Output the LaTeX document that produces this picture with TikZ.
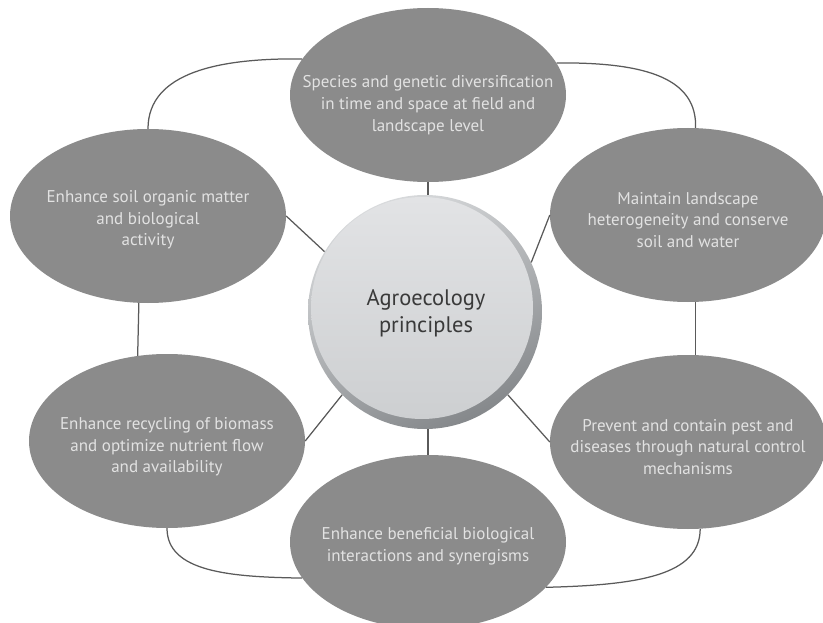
\documentclass[tikz,border=0pt]{standalone}
\usepackage{fontspec}
\setmainfont{PT Sans}
\usetikzlibrary{shapes.geometric,calc}
\definecolor{ellFill}{HTML}{8B8B8B}
\definecolor{ellText}{HTML}{E2E2E2}
\definecolor{lineCol}{HTML}{5A5A5A}
\definecolor{rimHi}{HTML}{D8DADC}
\definecolor{rimLo}{HTML}{85888B}
\definecolor{capHi}{HTML}{E2E3E5}
\definecolor{capLo}{HTML}{CDCFD1}
\definecolor{centerText}{HTML}{3A3A3A}
\tikzset{
  petal/.style={ellipse, fill=ellFill, minimum width=276pt, minimum height=174pt, inner sep=0pt},
  petaltext/.style={text=ellText, align=center, font=\fontsize{17}{21.7}\selectfont, inner sep=0pt},
  link/.style={draw=lineCol, line width=1.25pt},
}
\begin{document}
\begin{tikzpicture}[x=1pt,y=-1pt]
\useasboundingbox (0,0) rectangle (823,623);
% petals
\node[petal] (top) at (428,95) {};
\node[petal] (ul) at (148,216) {};
\node[petal] (ur) at (688,215) {};
\node[petal] (ll) at (167,441) {};
\node[petal] (lr) at (688,442) {};
\node[petal] (bot) at (428,542) {};
% center
\node[circle, minimum size=234pt, inner sep=0pt,
  path picture={
    \shade[top color=rimHi, bottom color=rimLo, shading angle=25]
      (path picture bounding box.south west) rectangle (path picture bounding box.north east);
    \shade[top color=capHi, bottom color=capLo]
      ($(path picture bounding box.center)+(-3,-4)$) circle[radius=111];
  }] (c) at (425,312) {};
% spokes
\draw[link] (top.south) -- (top.south |- c.north);
\draw[link] (bot.north) -- (bot.north |- c.south);
\draw[link] (ul.east) -- (c.149);
\draw[link] (ur.west) -- (c.25);
\draw[link] (ll.east) -- (c.-135);
\draw[link] (lr.west) -- (c.-45);
% ring
\draw[link] (ul.-96) -- (ll.109);
\draw[link] (ur.-85) -- (lr.85);
\draw[link] (ul.north) .. controls (148,72) and (220,58) .. (top.164);
\draw[link] (top.14) .. controls (650,62) and (697,80) .. (ur.85);
\draw[link] (ll.-90) .. controls (167,572) and (230,577) .. (bot.196);
\draw[link] (bot.-21) .. controls (640,585) and (700,575) .. (lr.-82);
% texts
\node[petaltext] (ttop) at ($(top.center)+(0,10)$) {Species and genetic diversification\\in time and space at field and\\landscape level};
\node[petaltext] (tul) at ($(ul.center)+(0,4)$) {Enhance soil organic matter\\and biological\\activity};
\node[petaltext] (tur) at ($(ur.center)+(0,5)$) {Maintain landscape\\heterogeneity and conserve\\soil and water};
\node[petaltext] (tll) at ($(ll.center)+(0,6)$) {Enhance recycling of biomass\\and optimize nutrient flow\\and availability};
\node[petaltext] (tlr) at ($(lr.center)+(0,5)$) {Prevent and contain pest and\\diseases through natural control\\mechanisms};
\node[petaltext] (tbot) at ($(bot.center)+(0,4)$) {Enhance beneficial biological\\interactions and synergisms};
\node[text=centerText, align=center, font=\fontsize{22.5}{27}\selectfont, inner sep=0pt] (tc) at (426,313) {Agroecology\\principles};
\end{tikzpicture}
\end{document}
